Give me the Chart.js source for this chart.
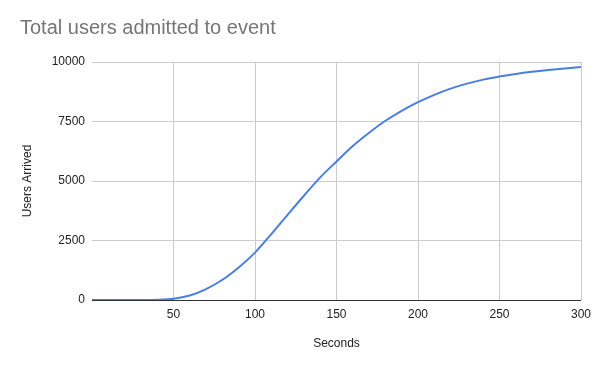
<!DOCTYPE html>
<html>
<head>
<meta charset="utf-8">
<script src="https://cdn.jsdelivr.net/npm/chart.js@4/dist/chart.umd.min.js"></script>
<style>
  html, body { margin: 0; padding: 0; background: #fff; }
  #wrap { width: 600px; height: 371px; }
</style>
</head>
<body>
<div id="wrap"><canvas id="users"></canvas></div>
<script>
// seconds since opening, sampled every 10s
const seconds = [0, 10, 20, 30, 40, 50, 60, 70, 80, 90, 100, 110, 120, 130, 140, 150,
    160, 170, 180, 190, 200, 210, 220, 230, 240, 250, 260, 270, 280, 290, 300];
// cumulative users admitted
const usersArrived = [0, 0, 0, 2, 12, 55, 190, 460, 850, 1370, 1990, 2770, 3580, 4380, 5150, 5820,
    6470, 7030, 7530, 7950, 8310, 8620, 8880, 9090, 9260, 9390, 9500, 9590, 9665, 9730, 9790];
const yTicks = [0, 2500, 5000, 7500, 10000];
const xTicks = [50, 100, 150, 200, 250, 300];

const points = seconds.map((s, i) => ({ x: s, y: usersArrived[i] }));
const fontFamily = 'Arial, "Liberation Sans", sans-serif';

function fillLine() {
    const ctx = document.getElementById('users').getContext('2d');
    const chart = new Chart(ctx, {
        type: 'line',
        data: {
            datasets: [{
                label: 'Users Arrived',
                data: points,
                borderColor: '#4a7fe0',
                borderWidth: 2,
                pointRadius: 0,
                cubicInterpolationMode: 'monotone',
                fill: false
            }]
        },
        options: {
            responsive: true,
            maintainAspectRatio: false,
            animation: false,
            layout: {
                padding: { left: 20, right: 19, top: 0, bottom: 0 }
            },
            scales: {
                x: {
                    type: 'linear',
                    min: 0,
                    max: 300,
                    afterFit: (scale) => { scale.height = 71; },
                    afterBuildTicks: (scale) => {
                        scale.ticks = xTicks.map(v => ({ value: v }));
                    },
                    ticks: {
                        padding: 7,
                        color: '#222',
                        font: { family: fontFamily, size: 12 },
                        maxRotation: 0,
                        callback: (v) => String(v)
                    },
                    grid: {
                        color: '#cccccc',
                        drawTicks: false
                    },
                    border: { display: false },
                    title: {
                        display: true,
                        text: 'Seconds',
                        color: '#222',
                        font: { family: fontFamily, size: 12 },
                        padding: { top: 20, bottom: 20 }
                    }
                },
                y: {
                    min: 0,
                    max: 10000,
                    afterFit: (scale) => { scale.width = 72; },
                    afterBuildTicks: (scale) => {
                        scale.ticks = yTicks.map(v => ({ value: v }));
                    },
                    ticks: {
                        padding: 7,
                        color: '#222',
                        font: { family: fontFamily, size: 12 },
                        callback: (v) => String(v)
                    },
                    grid: {
                        color: (c) => c.tick && c.tick.value === 0 ? '#333333' : '#cccccc',
                        drawTicks: false
                    },
                    border: { display: false },
                    title: {
                        display: true,
                        text: 'Users Arrived',
                        color: '#222',
                        font: { family: fontFamily, size: 12 },
                        padding: { top: 0, bottom: 0 }
                    }
                }
            },
            plugins: {
                legend: { display: false },
                tooltip: { enabled: false },
                title: {
                    display: true,
                    text: 'Total users admitted to event',
                    align: 'start',
                    color: '#757575',
                    font: { family: fontFamily, size: 20, weight: 'normal' },
                    padding: { top: 16, bottom: 22 }
                }
            }
        }
    });
    return chart;
}

fillLine();
</script>
</body>
</html>
